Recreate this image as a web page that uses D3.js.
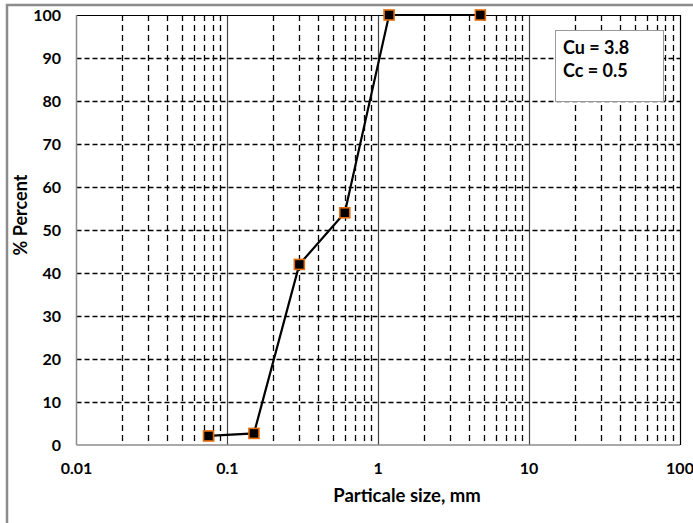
<!DOCTYPE html>
<html>
<head>
<meta charset="utf-8">
<script src="https://cdn.jsdelivr.net/npm/d3@7"></script>
<style>
  body { margin: 0; background: #fff; }
  text { font-family: Lato, "Open Sans", sans-serif; font-weight: bold; fill: #000; }
</style>
</head>
<body>
<svg id="chart" width="693" height="523"></svg>
<script>
// sieve data
const sizes = [0.075, 0.15, 0.3, 0.6, 1.18, 4.75];
const percents = [2.1, 2.7, 42, 54, 100, 100];
const xTicks = [0.01, 0.1, 1, 10, 100];
const yTicks = [0, 10, 20, 30, 40, 50, 60, 70, 80, 90, 100];
const notes = ["Cu = 3.8", "Cc = 0.5"];

const margin = { left: 76.5, right: 680, top: 15, bottom: 445 };
const svg = d3.select("#chart");

// outer chart border (cut off at right/bottom)
svg.append("path")
  .attr("d", "M7,530 L7,5 L700,5")
  .attr("fill", "none")
  .attr("stroke", "#8c8c8c")
  .attr("stroke-width", 2.5);

const x = d3.scaleLog().domain([0.01, 100]).range([margin.left, margin.right]);
const y = d3.scaleLinear().domain([0, 100]).range([margin.bottom, margin.top]);

// minor vertical gridlines (dashed)
const minor = [];
[0.01, 0.1, 1, 10].forEach(d => {
  for (let k = 2; k <= 9; k++) minor.push(d * k);
});
svg.append("g").selectAll("line")
  .data(minor)
  .join("line")
  .attr("x1", d => Math.round(x(d)) + 0.5)
  .attr("x2", d => Math.round(x(d)) + 0.5)
  .attr("y1", margin.top)
  .attr("y2", margin.bottom)
  .attr("stroke", "#000")
  .attr("stroke-width", 1.3)
  .attr("stroke-dasharray", "6,4");

// horizontal gridlines (dashed)
svg.append("g").selectAll("line")
  .data(yTicks.filter(d => d > 0 && d < 100))
  .join("line")
  .attr("x1", margin.left)
  .attr("x2", margin.right)
  .attr("y1", d => Math.round(y(d)) + 0.5)
  .attr("y2", d => Math.round(y(d)) + 0.5)
  .attr("stroke", "#000")
  .attr("stroke-width", 1.3)
  .attr("stroke-dasharray", "5,3");

// major decade lines (solid)
svg.append("g").selectAll("line")
  .data([0.1, 1, 10])
  .join("line")
  .attr("x1", d => Math.round(x(d)) + 0.5)
  .attr("x2", d => Math.round(x(d)) + 0.5)
  .attr("y1", margin.top)
  .attr("y2", margin.bottom)
  .attr("stroke", "#444")
  .attr("stroke-width", 1.2);

// plot frame
svg.append("line")
  .attr("x1", margin.left).attr("x2", margin.right)
  .attr("y1", margin.top + 0.5).attr("y2", margin.top + 0.5)
  .attr("stroke", "#000").attr("stroke-width", 1.2);
svg.append("line")
  .attr("x1", margin.right + 0.5).attr("x2", margin.right + 0.5)
  .attr("y1", margin.top).attr("y2", margin.bottom)
  .attr("stroke", "#000").attr("stroke-width", 1.2);
svg.append("line")
  .attr("x1", margin.left).attr("x2", margin.left)
  .attr("y1", margin.top).attr("y2", margin.bottom)
  .attr("stroke", "#8c8c8c").attr("stroke-width", 1.5);
svg.append("line")
  .attr("x1", margin.left).attr("x2", margin.right)
  .attr("y1", margin.bottom).attr("y2", margin.bottom)
  .attr("stroke", "#8c8c8c").attr("stroke-width", 1.5);

// y tick labels
svg.append("g").selectAll("text")
  .data(yTicks)
  .join("text")
  .attr("x", 61)
  .attr("y", d => y(d))
  .attr("dy", "0.36em")
  .attr("text-anchor", "end")
  .style("font-size", "16px")
  .text(d => d);

// x tick labels
svg.append("g").selectAll("text")
  .data(xTicks)
  .join("text")
  .attr("x", d => x(d))
  .attr("y", 468)
  .attr("dy", "0.36em")
  .attr("text-anchor", "middle")
  .style("font-size", "16px")
  .text(d => d);

// axis titles
svg.append("text")
  .attr("x", 407)
  .attr("y", 495)
  .attr("dy", "0.36em")
  .attr("text-anchor", "middle")
  .style("font-size", "18.5px")
  .text("Particale size, mm");

svg.append("text")
  .attr("transform", "translate(21,215) rotate(-90)")
  .attr("dy", "0.36em")
  .attr("text-anchor", "middle")
  .style("font-size", "18px")
  .text("% Percent");

// gradation curve
const pts = sizes.map((s, i) => [s, percents[i]]);
svg.append("path")
  .datum(pts)
  .attr("fill", "none")
  .attr("stroke", "#000")
  .attr("stroke-width", 2.2)
  .attr("d", d3.line().x(d => x(d[0])).y(d => y(d[1])));

svg.append("g").selectAll("rect")
  .data(pts)
  .join("rect")
  .attr("x", d => x(d[0]) - 5)
  .attr("y", d => y(d[1]) - 5)
  .attr("width", 10)
  .attr("height", 10)
  .attr("fill", "#000")
  .attr("stroke", "#e46c0a")
  .attr("stroke-width", 1.6);

// annotation box
svg.append("rect")
  .attr("x", 555.5).attr("y", 30.5)
  .attr("width", 108).attr("height", 71)
  .attr("fill", "#fff")
  .attr("stroke", "#999")
  .attr("stroke-width", 1);

svg.append("g").selectAll("text")
  .data(notes)
  .join("text")
  .attr("x", 563)
  .attr("y", (d, i) => 48 + i * 23)
  .attr("dy", "0.36em")
  .style("font-size", "18px")
  .text(d => d);
</script>
</body>
</html>
